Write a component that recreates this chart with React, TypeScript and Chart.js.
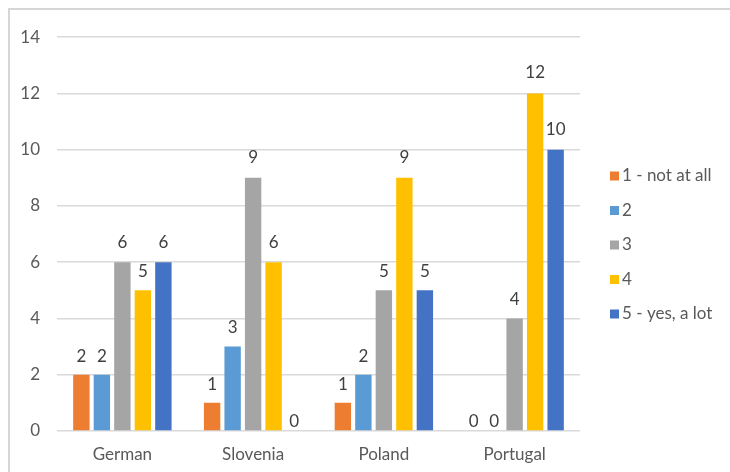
import React, { useEffect, useRef } from "react";
import { Chart, registerables } from "chart.js";

Chart.register(...registerables);

const countries = ["German", "Slovenia", "Poland", "Portugal"];
const seriesNames = ["1 - not at all", "2", "3", "4", "5 - yes, a lot"];
const notAtAll = [2, 1, 1, 0];
const answer2 = [2, 3, 2, 0];
const answer3 = [6, 9, 5, 4];
const answer4 = [5, 6, 9, 12];
const yesALot = [6, 0, 5, 10];
const seriesColors = ["#ED7D31", "#5B9BD5", "#A5A5A5", "#FFC000", "#4472C4"];
const yTicks = [0, 2, 4, 6, 8, 10, 12, 14];

const FONT = "Lato, 'Open Sans', sans-serif";
const TEXT = "#595959";

// Value labels above each bar
const valueLabels = {
  id: "valueLabels",
  afterDatasetsDraw(chart: any) {
    const ctx = chart.ctx;
    ctx.save();
    ctx.font = `17px ${FONT}`;
    ctx.fillStyle = "#404040";
    ctx.textAlign = "center";
    ctx.textBaseline = "middle";
    chart.data.datasets.forEach((ds: any, i: number) => {
      const meta = chart.getDatasetMeta(i);
      meta.data.forEach((bar: any, j: number) => {
        const v = ds.data[j];
        const off = v === 0 ? 9 : 18 + v * 0.25;
        ctx.fillText(String(v), bar.x, bar.y - off);
      });
    });
    ctx.restore();
  },
};

// Legend drawn to the right of the plot
const sideLegend = {
  id: "sideLegend",
  afterDraw(chart: any) {
    const ctx = chart.ctx;
    const left = chart.chartArea.right + 30;
    const top = 166;
    const step = 34.5;
    ctx.save();
    ctx.font = `17px ${FONT}`;
    ctx.textAlign = "left";
    ctx.textBaseline = "middle";
    chart.data.datasets.forEach((ds: any, i: number) => {
      const y = top + i * step;
      ctx.fillStyle = ds.backgroundColor;
      ctx.fillRect(left, y - 4.5, 9, 9);
      ctx.fillStyle = TEXT;
      ctx.fillText(ds.label, left + 12, y);
    });
    ctx.restore();
  },
};

export default function App() {
  const ref = useRef<HTMLCanvasElement>(null);

  useEffect(() => {
    if (!ref.current) return;
    const values = [notAtAll, answer2, answer3, answer4, yesALot];
    const chart = new Chart(ref.current, {
      type: "bar",
      data: {
        labels: countries,
        datasets: seriesNames.map((name, i) => ({
          label: name,
          data: values[i],
          backgroundColor: seriesColors[i],
          categoryPercentage: 0.784,
          barPercentage: 0.8,
        })),
      },
      options: {
        responsive: false,
        animation: false,
        devicePixelRatio: 1,
        layout: { padding: { top: 21, right: 150, left: 0, bottom: 0 } },
        plugins: {
          legend: { display: false },
          tooltip: { enabled: false },
        },
        scales: {
          x: {
            grid: { display: false, drawTicks: false },
            border: { display: false },
            ticks: { color: TEXT, font: { family: FONT, size: 17 }, padding: 13 },
            afterFit(s: any) {
              s.height = 41;
            },
          },
          y: {
            min: 0,
            max: 14,
            afterBuildTicks(s: any) {
              s.ticks = yTicks.map((v) => ({ value: v }));
            },
            grid: { color: "#D9D9D9", lineWidth: 1.5, drawTicks: false },
            border: { display: false },
            ticks: { color: TEXT, font: { family: FONT, size: 17 }, padding: 17 },
            afterFit(s: any) {
              s.width = 47;
            },
          },
        },
      },
      plugins: [valueLabels, sideLegend],
    });
    return () => chart.destroy();
  }, []);

  return (
    <div
      style={{
        position: "fixed",
        left: 8,
        top: 8,
        width: 760,
        height: 500,
        boxSizing: "border-box",
        borderTop: "2px solid #D6D6D6",
        borderLeft: "2px solid #D6D6D6",
        overflow: "hidden",
        background: "#fff",
      }}
    >
      <canvas ref={ref} width={720} height={462} style={{ display: "block" }} />
    </div>
  );
}
